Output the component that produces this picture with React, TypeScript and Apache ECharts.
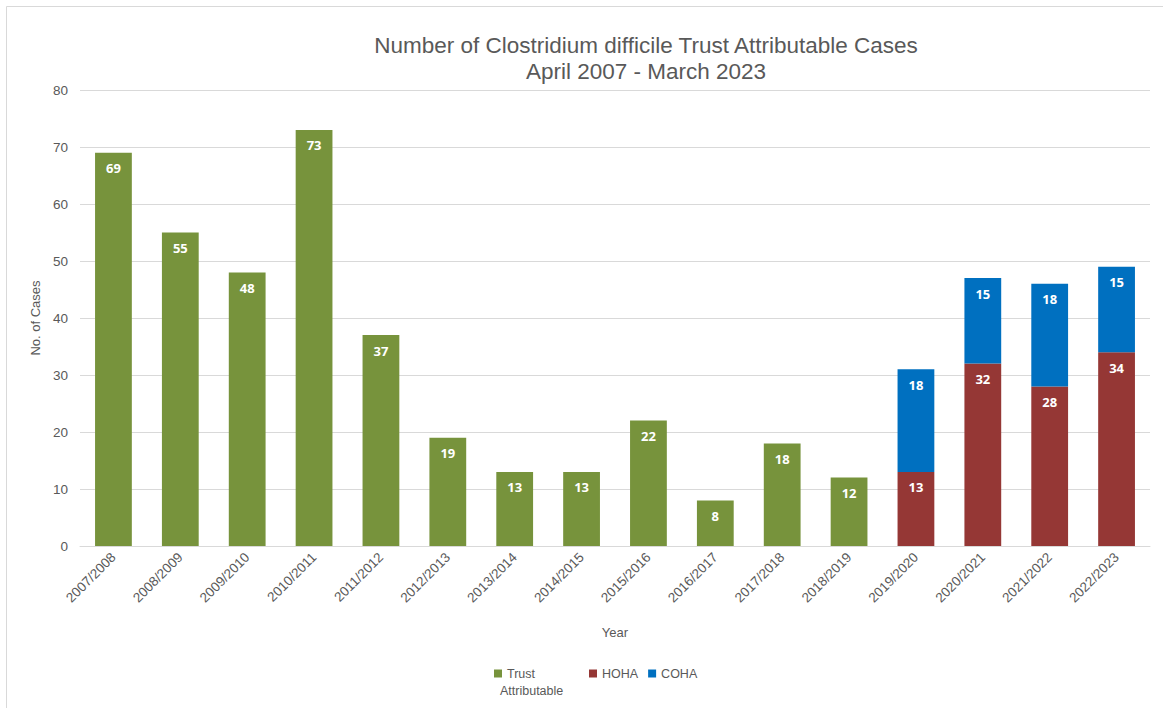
import React, { useEffect, useRef } from "react";
import * as echarts from "echarts";

const years = [
  "2007/2008", "2008/2009", "2009/2010", "2010/2011", "2011/2012", "2012/2013",
  "2013/2014", "2014/2015", "2015/2016", "2016/2017", "2017/2018", "2018/2019",
  "2019/2020", "2020/2021", "2021/2022", "2022/2023",
];
const trust = [69, 55, 48, 73, 37, 19, 13, 13, 22, 8, 18, 12, null, null, null, null];
const hoha = [null, null, null, null, null, null, null, null, null, null, null, null, 13, 32, 28, 34];
const coha = [null, null, null, null, null, null, null, null, null, null, null, null, 18, 15, 18, 15];
const yTicks = { min: 0, max: 80, interval: 10 };

const FONT = "'Liberation Sans', Arial, sans-serif";
const GREY = "#595959";

export default function App() {
  const ref = useRef<HTMLDivElement>(null);
  useEffect(() => {
    document.body.style.margin = "0";
    const chart = echarts.init(ref.current!, null, { renderer: "svg" });
    const label = {
      show: true,
      position: "insideTop",
      distance: 9,
      color: "#ffffff",
      fontWeight: "bold",
      fontSize: 13,
      fontFamily: "'Open Sans', sans-serif",
    };
    const legendBase = {
      top: 662,
      itemWidth: 8,
      itemHeight: 8,
      itemGap: 10,
      icon: "rect",
      textStyle: { fontFamily: FONT, fontSize: 12.5, color: GREY },
    };
    chart.setOption({
      animation: false,
      backgroundColor: "#ffffff",
      textStyle: { fontFamily: FONT },
      title: {
        text: "Number of Clostridium difficile Trust Attributable Cases\nApril 2007 - March 2023",
        left: 641,
        top: 27,
        textAlign: "center",
        textStyle: { fontFamily: FONT, fontSize: 22.5, fontWeight: "normal", color: GREY, lineHeight: 26 },
      },
      graphic: [
        {
          type: "rect",
          shape: { x: 6.5, y: 6.5, width: 1180, height: 720 },
          style: { fill: "none", stroke: "#d9d9d9", lineWidth: 1 },
          silent: true,
        },
        {
          type: "text",
          left: 500,
          top: 684,
          style: { text: "Attributable", fill: GREY, fontSize: 12.5, fontFamily: FONT },
          silent: true,
        },
      ],
      legend: [
        {
          ...legendBase,
          left: 489,
          data: ["Trust Attributable"],
          formatter: () => "Trust",
        },
        {
          ...legendBase,
          left: 584,
          data: ["HOHA", "COHA"],
        },
      ],
      grid: { left: 80, right: 13, top: 90, bottom: 162 },
      xAxis: {
        type: "category",
        data: years,
        name: "Year",
        nameLocation: "middle",
        nameGap: 80,
        nameTextStyle: { fontFamily: FONT, fontSize: 13, color: GREY },
        axisLine: { lineStyle: { color: "#d9d9d9" } },
        axisTick: { show: false },
        axisLabel: { rotate: 45, color: GREY, fontSize: 13.5, fontFamily: FONT, margin: 9 },
      },
      yAxis: {
        type: "value",
        min: yTicks.min,
        max: yTicks.max,
        interval: yTicks.interval,
        name: "No. of Cases",
        nameLocation: "middle",
        nameGap: 37,
        nameTextStyle: { fontFamily: FONT, fontSize: 13, color: GREY },
        axisLine: { show: false },
        axisTick: { show: false },
        splitLine: { lineStyle: { color: "#d9d9d9" } },
        axisLabel: { color: GREY, fontSize: 13.5, fontFamily: FONT, margin: 12 },
      },
      series: [
        {
          name: "Trust Attributable",
          type: "bar",
          stack: "all",
          data: trust,
          barWidth: "55%",
          itemStyle: { color: "#77933C" },
          label,
        },
        {
          name: "HOHA",
          type: "bar",
          stack: "all",
          data: hoha,
          itemStyle: { color: "#953735" },
          label,
        },
        {
          name: "COHA",
          type: "bar",
          stack: "all",
          data: coha,
          itemStyle: { color: "#0070C0" },
          label,
        },
      ],
    });
    return () => chart.dispose();
  }, []);
  return (
    <div
      ref={ref}
      style={{ position: "absolute", left: 0, top: 0, width: 1163, height: 708 }}
    />
  );
}
